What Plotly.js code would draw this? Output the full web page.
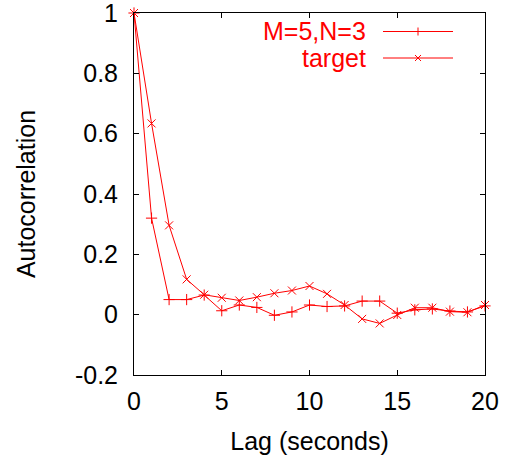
<!DOCTYPE html>
<html>
<head>
<meta charset="utf-8">
<script src="https://cdn.plot.ly/plotly-3.0.1.min.js"></script>
<style>html,body{margin:0;padding:0;background:#fff}#plot{width:507px;height:460px}</style>
</head>
<body>
<div id="plot"></div>
<script>
var lags = [0,1,2,3,4,5,6,7,8,9,10,11,12,13,14,15,16,17,18,19,20];
var m5n3 = [1.0,0.32,0.05,0.05,0.065,0.013,0.032,0.024,-0.002,0.009,0.032,0.027,0.029,0.045,0.045,0.005,0.016,0.019,0.012,0.009,0.029];
var target = [1.0,0.634,0.296,0.117,0.066,0.056,0.047,0.058,0.071,0.080,0.095,0.069,0.032,-0.014,-0.029,-0.001,0.023,0.023,0.010,0.008,0.032];
var seriesNames = ["M=5,N=3","target"];
var xTicks = [0,5,10,15,20];
var yTicks = [-0.2,0,0.2,0.4,0.6,0.8,1];

var red = "#ff0000";
var font = "Liberation Sans, Arial, sans-serif";
var fs = 25;

var traces = [
  {x: lags, y: m5n3, mode: "lines+markers", name: seriesNames[0], cliponaxis: false,
   line: {color: red, width: 1}, marker: {symbol: "cross-thin-open", size: 8, color: red, line: {color: red, width: 1}}},
  {x: lags, y: target, mode: "lines+markers", name: seriesNames[1], cliponaxis: false,
   line: {color: red, width: 1}, marker: {symbol: "x-thin-open", size: 8, color: red, line: {color: red, width: 1}}}
];

var layout = {
  width: 507, height: 460,
  margin: {l: 134, r: 22, t: 13, b: 85},
  paper_bgcolor: "#fff", plot_bgcolor: "#fff",
  showlegend: false,
  font: {family: font, size: fs, color: "#000"},
  xaxis: {range: [0,20], tickvals: xTicks, ticktext: xTicks.map(String), ticks: "inside", ticklen: 5,
    tickcolor: "#000", showline: true, mirror: "ticks", linecolor: "#000", linewidth: 1,
    showgrid: false, zeroline: false, tickfont: {size: fs}, ticklabelstandoff: 4, automargin: false,
    ticklabeloverflow: "allow",
    title: {text: "Lag (seconds)", font: {size: fs}, standoff: 18}},
  yaxis: {range: [-0.2,1], tickvals: yTicks, ticktext: yTicks.map(function(v){return String(v);}), ticks: "inside", ticklen: 5,
    tickcolor: "#000", showline: true, mirror: "ticks", linecolor: "#000", linewidth: 1,
    showgrid: false, zeroline: false, tickfont: {size: fs}, ticklabelstandoff: 10, automargin: false,
    ticklabeloverflow: "allow",
    title: {text: "Autocorrelation", font: {size: fs}, standoff: 32}},
  shapes: [], annotations: []
};

// legend drawn gnuplot-style (text left of key), in paper coordinates
var legY = [31.5, 58];
var plotL = 134, plotR = 485, plotT = 13, plotB = 375;
function fx(p){return (p - plotL)/(plotR - plotL);}
function fy(p){return (plotB - p)/(plotB - plotT);}
seriesNames.forEach(function(n, i){
  var yy = legY[i];
  layout.annotations.push({xref:"paper", yref:"paper", x: fx(368), y: fy(yy), text: n, showarrow:false,
    font:{family:font, size:fs, color:red}, xanchor:"right", yanchor:"middle"});
  layout.shapes.push({type:"line", xref:"paper", yref:"paper", x0: fx(383), x1: fx(453), y0: fy(yy), y1: fy(yy), line:{color:red, width:1}});
  var cx = 418, r = 4;
  if (i === 0) {
    layout.shapes.push({type:"line", xref:"paper", yref:"paper", x0: fx(cx-r), x1: fx(cx+r), y0: fy(yy), y1: fy(yy), line:{color:red, width:1}});
    layout.shapes.push({type:"line", xref:"paper", yref:"paper", x0: fx(cx), x1: fx(cx), y0: fy(yy-r), y1: fy(yy+r), line:{color:red, width:1}});
  } else {
    layout.shapes.push({type:"line", xref:"paper", yref:"paper", x0: fx(cx-3), x1: fx(cx+3), y0: fy(yy-3), y1: fy(yy+3), line:{color:red, width:1}});
    layout.shapes.push({type:"line", xref:"paper", yref:"paper", x0: fx(cx-3), x1: fx(cx+3), y0: fy(yy+3), y1: fy(yy-3), line:{color:red, width:1}});
  }
});

Plotly.newPlot("plot", traces, layout, {displayModeBar: false, staticPlot: true});
</script>
</body>
</html>
